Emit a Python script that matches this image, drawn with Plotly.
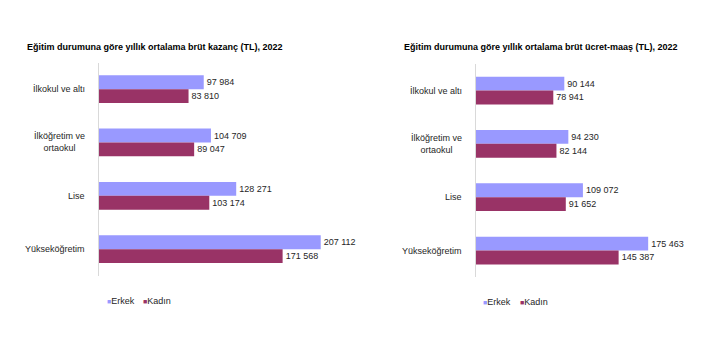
import plotly.graph_objects as go

categories = ["İlkokul ve altı", "İlköğretim ve<br>ortaokul", "Lise", "Yükseköğretim"]
series_names = ["Erkek", "Kadın"]
kazanc_erkek = [97984, 104709, 128271, 207112]
kazanc_kadin = [83810, 89047, 103174, 171568]
ucret_erkek = [90144, 94230, 109072, 175463]
ucret_kadin = [78941, 82144, 91652, 145387]
titles = ["Eğitim durumuna göre yıllık ortalama brüt kazanç (TL), 2022",
          "Eğitim durumuna göre yıllık ortalama brüt ücret-maaş (TL), 2022"]
colors = ["#9999FF", "#993366"]

W, H = 702, 351
FONT = "Liberation Sans, Arial, sans-serif"
TXT = "#262626"

fig = go.Figure()

panels = [
    (kazanc_erkek, kazanc_kadin, "x", "y"),
    (ucret_erkek, ucret_kadin, "x2", "y2"),
]
for (e, k, xa, ya) in panels:
    for vals, name, col in zip([e, k], series_names, colors):
        fig.add_trace(go.Bar(
            y=categories, x=vals, name=name, orientation="h",
            marker=dict(color=col, line=dict(width=0)),
            xaxis=xa, yaxis=ya, showlegend=False,
            texttemplate="%{x:,.0f}", textposition="outside",
            textfont=dict(size=9, color=TXT, family=FONT),
            cliponaxis=False, constraintext="none",
        ))

# geometry (pixels)
lx0, lscale = 98.7, 1.072 / 1000
rx0, rscale = 475.7, 0.983 / 1000
lx1, rx1 = 340, 690

def yd(top, bottom):
    return [1 - bottom / H, 1 - top / H]

axis_common = dict(showgrid=False, zeroline=False, showticklabels=False, ticks="", fixedrange=True)
fig.update_layout(
    width=W, height=H,
    margin=dict(l=0, r=0, t=0, b=0),
    paper_bgcolor="white", plot_bgcolor="white",
    barmode="group", bargap=0.48, bargroupgap=0,
    separators=", ",
    font=dict(family=FONT, size=9, color=TXT),
    xaxis=dict(domain=[lx0 / W, lx1 / W], range=[0, (lx1 - lx0) / lscale], anchor="y", **axis_common),
    yaxis=dict(domain=yd(62.5, 275.8), autorange="reversed", anchor="x",
               showline=True, linecolor="#D9D9D9", linewidth=1, **axis_common),
    xaxis2=dict(domain=[rx0 / W, rx1 / W], range=[0, (rx1 - rx0) / rscale], anchor="y2", **axis_common),
    yaxis2=dict(domain=yd(63.85, 277.2), autorange="reversed", anchor="x2",
                showline=True, linecolor="#D9D9D9", linewidth=1, **axis_common),
)

ann = []
# titles
for t, cx in zip(titles, [154.5, 540.5]):
    ann.append(dict(text="<b>" + t + "</b>", x=cx / W, y=1 - 47 / H, xref="paper", yref="paper",
                    xanchor="center", yanchor="middle", showarrow=False,
                    font=dict(size=9, color="#000000", family=FONT)))
# category labels
for xr, yr in [("x domain", "y"), ("x2 domain", "y2")]:
    for c in categories:
        ann.append(dict(text=c, x=0, y=c, xref=xr, yref=yr, xanchor="right", yanchor="middle",
                        xshift=-12, align="center", showarrow=False,
                        font=dict(size=9, color=TXT, family=FONT)))
# legends
for (sx, tx), cy in [((106.7, 143.0), 300.7), ((483.0, 520.0), 301.7)]:
    pass
legend_pos = [
    [(104.5, 300.7), (141.0, 300.7)],
    [(481.0, 301.7), (518.0, 301.7)],
]
for items in legend_pos:
    for (px, py), name, col in zip(items, series_names, colors):
        ann.append(dict(text="<span style='color:%s;font-size:7px'>■</span>%s" % (col, name),
                        x=px / W, y=1 - py / H, xref="paper", yref="paper",
                        xanchor="left", yanchor="middle", showarrow=False,
                        font=dict(size=9, color=TXT, family=FONT)))
fig.update_layout(annotations=ann)

fig.write_html("out.html")
